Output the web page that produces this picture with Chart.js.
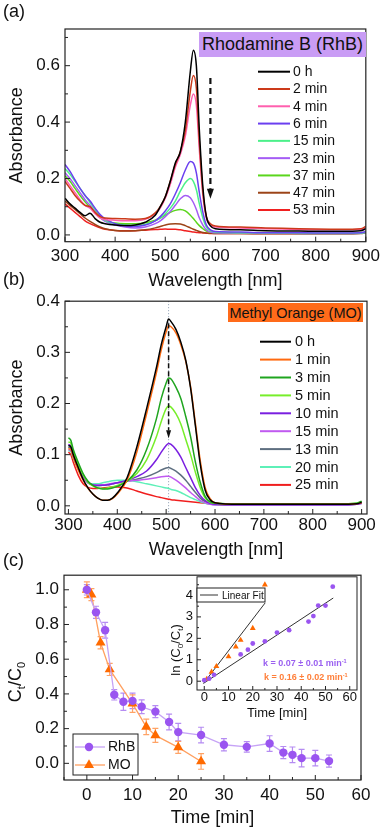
<!DOCTYPE html>
<html>
<head>
<meta charset="utf-8">
<script src="https://cdn.jsdelivr.net/npm/chart.js@4.4.1/dist/chart.umd.min.js"></script>
<style>
  html, body { margin:0; padding:0; background:#fff; }
  body { position:relative; width:384px; height:830px; overflow:hidden; font-family:'Liberation Sans', Arial, sans-serif; color:#111; }
  canvas { position:absolute; }
  .panel { position:absolute; left:3px; font-size:18px; line-height:18px; }
  .tag { position:absolute; display:flex; align-items:center; justify-content:center; white-space:nowrap; color:#111; }
</style>
</head>
<body>
<canvas id="chartA" width="384" height="295" style="left:0;top:0;width:384px;height:295px"></canvas>
<canvas id="chartB" width="384" height="280" style="left:0;top:286px;width:384px;height:280px"></canvas>
<canvas id="chartC" width="384" height="270" style="left:0;top:560px;width:384px;height:270px"></canvas>
<canvas id="chartInset" width="210" height="160" style="left:160px;top:565px;width:210px;height:160px"></canvas>
<div class="panel" style="top:2px">(a)</div>
<div class="panel" style="top:270px">(b)</div>
<div class="panel" style="top:551px">(c)</div>
<div class="tag" style="left:199px;top:32px;width:167px;height:25px;background:#c99cf5;font-size:18px">Rhodamine B (RhB)</div>
<div class="tag" style="left:228px;top:303px;width:135px;height:19px;background:#ff6b1a;font-size:14.5px">Methyl Orange (MO)</div>
<script>
const FONT = "'Liberation Sans', Arial, sans-serif";
Chart.defaults.font.family = FONT;
Chart.defaults.color = '#111';

// ---------------- DATA ----------------
// (a) Rhodamine B spectra
const wavelengthRhB = [300,310,320,330,340,350,360,370,380,400,420,440,460,480,490,500,510,520,530,540,550,556,562,568,575,582,590,600,650,700,750,800,850,890,900];
const rhbSpectrumLabels = ['0 h','2 min','4 min','6 min','15 min','23 min','37 min','47 min','53 min'];
const rhb0h   = [0.13,0.11,0.095,0.08,0.068,0.077,0.058,0.045,0.04, 0.035,0.033,0.035,0.045,0.07, 0.1,0.135,0.19,0.255,0.295,0.40,0.58, 0.655,0.60,0.37,0.17,0.065,0.032,0.022, 0.018,0.015,0.014,0.013,0.013,0.015,0.022];
const rhb2min = [0.19,0.165,0.14,0.12,0.105,0.1,0.08,0.065,0.06, 0.058,0.057,0.056,0.058,0.078, 0.1,0.135,0.19,0.25,0.295,0.37,0.51, 0.565,0.52,0.33,0.155,0.065,0.04,0.032, 0.028,0.025,0.023,0.021,0.02,0.022,0.03];
const rhb4min = [0.2,0.175,0.15,0.125,0.105,0.095,0.075,0.06,0.055, 0.052,0.05,0.05,0.055,0.075, 0.095,0.13,0.18,0.24,0.285,0.35,0.46, 0.5,0.46,0.3,0.14,0.06,0.035,0.028, 0.025,0.022,0.02,0.018,0.018,0.02,0.026];
const rhb6min = [0.25,0.225,0.195,0.165,0.14,0.12,0.095,0.072,0.057, 0.04,0.032,0.03,0.035,0.05, 0.065,0.085,0.11,0.145,0.185,0.23,0.26, 0.255,0.22,0.15,0.08,0.035,0.018,0.012, 0.01,0.008,0.008,0.007,0.007,0.008,0.012];
const rhb15min = [0.235,0.215,0.19,0.165,0.14,0.115,0.09,0.068,0.052, 0.04,0.035,0.033,0.037,0.05, 0.06,0.075,0.095,0.12,0.155,0.185,0.2, 0.19,0.16,0.11,0.06,0.028,0.015,0.01, 0.008,0.007,0.007,0.006,0.006,0.007,0.01];
const rhb23min = [0.22,0.2,0.175,0.15,0.125,0.105,0.083,0.062,0.048, 0.035,0.028,0.025,0.028,0.04, 0.05,0.065,0.083,0.105,0.128,0.14,0.132, 0.115,0.09,0.06,0.035,0.018,0.01,0.008, 0.007,0.006,0.006,0.005,0.005,0.006,0.009];
const rhb37min = [0.21,0.19,0.165,0.14,0.118,0.098,0.08,0.062,0.05, 0.042,0.04,0.04,0.043,0.052, 0.06,0.07,0.08,0.087,0.09,0.085,0.07, 0.058,0.045,0.033,0.022,0.014,0.01,0.008, 0.007,0.006,0.006,0.005,0.005,0.006,0.009];
const rhb47min = [0.12,0.105,0.09,0.075,0.06,0.048,0.037,0.028,0.022, 0.016,0.014,0.015,0.018,0.025, 0.03,0.035,0.039,0.04,0.039,0.033,0.025, 0.02,0.016,0.012,0.009,0.007,0.006,0.005, 0.005,0.004,0.004,0.004,0.004,0.005,0.008];
const rhb53min = [0.11,0.095,0.08,0.065,0.05,0.04,0.032,0.025,0.02, 0.016,0.015,0.015,0.017,0.019, 0.02,0.021,0.02,0.02,0.018,0.015,0.012, 0.01,0.009,0.008,0.007,0.006,0.005,0.005, 0.005,0.005,0.005,0.005,0.005,0.006,0.01];

// (b) Methyl Orange spectra
const wavelengthMO = [300,305,310,320,330,340,350,360,370,380,390,400,420,440,460,480,490,500,505,510,520,530,540,550,560,570,580,590,600,650,700,750,800,850,890,900];
const moSpectrumLabels = ['0 h','1 min','3 min','5 min','10 min','15 min','13 min','20 min','25 min'];
const mo0h   = [0.118,0.115,0.1,0.075,0.052,0.035,0.023,0.015,0.011,0.011, 0.015,0.025,0.055,0.115,0.19,0.27,0.315,0.35, 0.365,0.36,0.345,0.32,0.285,0.23,0.155,0.08, 0.03,0.012,0.006,0.003,0.003,0.003,0.003,0.003,0.004,0.007];
const mo1min = [0.112,0.11,0.095,0.07,0.05,0.034,0.023,0.015,0.011,0.011, 0.014,0.023,0.05,0.105,0.18,0.26,0.305,0.34, 0.352,0.35,0.338,0.315,0.283,0.233,0.16,0.087, 0.035,0.014,0.006,0.003,0.003,0.003,0.003,0.003,0.004,0.006];
const mo3min = [0.133,0.128,0.11,0.085,0.063,0.048,0.04,0.035,0.033,0.033, 0.035,0.038,0.048,0.07,0.11,0.17,0.21,0.24, 0.25,0.248,0.232,0.21,0.175,0.135,0.085,0.045, 0.018,0.008,0.005,0.004,0.004,0.004,0.004,0.004,0.005,0.009];
const mo5min = [0.125,0.122,0.105,0.08,0.06,0.046,0.039,0.035,0.034,0.035, 0.037,0.04,0.048,0.063,0.09,0.135,0.165,0.19, 0.195,0.193,0.18,0.16,0.13,0.1,0.065,0.035, 0.015,0.007,0.005,0.004,0.004,0.004,0.004,0.004,0.005,0.008];
const mo10min = [0.12,0.117,0.1,0.077,0.058,0.046,0.041,0.04,0.04,0.041, 0.043,0.045,0.05,0.057,0.068,0.09,0.105,0.118, 0.122,0.12,0.11,0.095,0.075,0.055,0.035,0.02, 0.01,0.005,0.003,0.002,0.002,0.002,0.002,0.002,0.003,0.005];
const mo15min = [0.11,0.108,0.094,0.073,0.056,0.045,0.041,0.04,0.041,0.042, 0.044,0.045,0.048,0.05,0.052,0.055,0.057,0.058, 0.058,0.056,0.05,0.043,0.035,0.026,0.018,0.01, 0.006,0.003,0.002,0.002,0.002,0.002,0.002,0.002,0.003,0.005];
const mo13min = [0.115,0.112,0.097,0.075,0.057,0.045,0.04,0.039,0.04,0.041, 0.043,0.045,0.048,0.052,0.057,0.065,0.07,0.074, 0.075,0.073,0.068,0.06,0.05,0.038,0.026,0.015, 0.008,0.004,0.002,0.002,0.002,0.002,0.002,0.002,0.003,0.005];
const mo20min = [0.108,0.106,0.093,0.072,0.055,0.045,0.043,0.043,0.045,0.047, 0.049,0.05,0.05,0.047,0.043,0.039,0.037,0.035, 0.034,0.032,0.03,0.026,0.021,0.016,0.012,0.008, 0.005,0.003,0.003,0.003,0.003,0.003,0.003,0.003,0.004,0.007];
const mo25min = [0.105,0.1,0.085,0.06,0.043,0.036,0.034,0.034,0.035,0.036, 0.037,0.037,0.035,0.029,0.023,0.018,0.016,0.014, 0.013,0.012,0.011,0.01,0.009,0.008,0.007,0.006, 0.005,0.004,0.003,0.003,0.003,0.003,0.003,0.003,0.004,0.006];

// (c) kinetics
const timeRhB = [0,2,4,6,8,10,12,15,18,20,25,30,35,40,43,45,47,50,53];
const ctRhB   = [1.0,0.87,0.767,0.395,0.355,0.36,0.326,0.298,0.238,0.18,0.163,0.107,0.095,0.114,0.062,0.049,0.03,0.03,0.013];
const errRhB  = [0.03,0.035,0.045,0.03,0.05,0.045,0.04,0.035,0.045,0.05,0.045,0.035,0.03,0.045,0.035,0.045,0.05,0.045,0.035];
const timeMO  = [0,1,3,5,10,13,15,20,25];
const ctMO    = [1.0,0.972,0.695,0.541,0.344,0.21,0.161,0.092,0.011];
const errMO   = [0.045,0.035,0.035,0.035,0.05,0.045,0.04,0.035,0.045];

// (c) inset: ln(C0/Ct)
const lnTimeRhB = [0,2,4,15,18,20,25,30,35,43,45,47,50,53];
const lnRhB     = [0.05,0.12,0.3,1.25,1.47,1.76,1.86,2.27,2.38,2.78,3.04,3.53,3.53,4.41];
const lnTimeMO  = [1,3,5,10,13,15,20,25];
const lnMO      = [0.1,0.43,0.69,1.15,1.61,1.92,2.47,4.5];
const fitTimeRhB = [-0.3,53.2];
const fitLnRhB   = [-0.1,3.88];
const fitTimeMO  = [-0.3,25.1];
const fitLnMO    = [-0.1,3.65];

// ---------------- STYLE ----------------
const rhbColors = ['#000000','#cc3a1a','#ff5fae','#6b3ff0','#4cf08a','#a45cf5','#5ad61c','#9c4418','#f02020'];
const moColors  = ['#000000','#ff6a10','#1fa51f','#77ee2a','#7a1fe0','#c05af0','#5e6f80','#5ef0b8','#f01e1e'];

const pts = (xs, ys) => xs.map((x, i) => ({x: x, y: ys[i]}));

function spectraDatasets(wl, series, labels, colors) {
  return series.map((s, i) => ({
    label: labels[i], data: pts(wl, s), borderColor: colors[i], backgroundColor: colors[i],
    borderWidth: 1.5, pointRadius: 0, cubicInterpolationMode: 'monotone', fill: false
  }));
}
function fixed(size) { return s => { if (s.isHorizontal()) s.height = size; else s.width = size; }; }
function linAxis(o) {
  return {
    type: 'linear', min: o.min, max: o.max, afterFit: fixed(o.size),
    grid: {display: false, drawTicks: false}, border: {display: false},
    ticks: {stepSize: o.step, includeBounds: false, padding: o.pad, font: {size: o.font}, color: '#111',
            maxRotation: 0, autoSkip: false, callback: o.fmt || (v => v)},
    title: o.title ? {display: true, text: o.title, font: {size: o.titleSize}, color: '#111', padding: o.titlePad} : {display: false}
  };
}

function drawParts(ctx, parts, x, y, size, weight, color) {
  ctx.fillStyle = color; ctx.textBaseline = 'alphabetic'; ctx.textAlign = 'left';
  let cx = x;
  for (const p of parts) {
    const s = (p.sup || p.sub) ? size * 0.62 : size;
    ctx.font = weight + ' ' + s + 'px ' + FONT;
    const dy = p.sup ? -size * 0.4 : (p.sub ? size * 0.22 : 0);
    ctx.fillText(p.t, cx, y + size * 0.36 + dy);
    cx += ctx.measureText(p.t).width;
  }
}
function partsWidth(ctx, parts, size, weight) {
  let w = 0;
  for (const p of parts) {
    const s = (p.sup || p.sub) ? size * 0.62 : size;
    ctx.font = weight + ' ' + s + 'px ' + FONT;
    w += ctx.measureText(p.t).width;
  }
  return w;
}
function drawMarker(ctx, style, x, y, r, color) {
  ctx.fillStyle = color; ctx.beginPath();
  if (style === 'triangle') {
    let a = 0;
    ctx.moveTo(x + Math.sin(a) * r, y - Math.cos(a) * r);
    a += 2 * Math.PI / 3; ctx.lineTo(x + Math.sin(a) * r, y - Math.cos(a) * r);
    a += 2 * Math.PI / 3; ctx.lineTo(x + Math.sin(a) * r, y - Math.cos(a) * r);
    ctx.closePath();
  } else {
    ctx.arc(x, y, r, 0, Math.PI * 2);
  }
  ctx.fill();
}

// ---------------- PLUGINS ----------------
const framePlugin = {
  id: 'frame',
  beforeDatasetsDraw(chart, args, o) {
    if (!o.on) return;
    const {ctx, chartArea: a} = chart;
    if (o.fill) { ctx.save(); ctx.fillStyle = '#fff'; ctx.fillRect(a.left, a.top, a.right - a.left, a.bottom - a.top); ctx.restore(); }
  },
  afterDatasetsDraw(chart, args, o) {
    if (!o.on) return;
    const {ctx, chartArea: a, scales} = chart;
    ctx.save();
    ctx.strokeStyle = '#222'; ctx.lineWidth = o.lw || 1.2;
    ctx.strokeRect(a.left, a.top, a.right - a.left, a.bottom - a.top);
    ctx.lineWidth = 1; ctx.beginPath();
    const doTicks = (scale, step, minor, horiz) => {
      const k0 = Math.ceil(scale.min / minor - 1e-9), k1 = Math.floor(scale.max / minor + 1e-9);
      for (let k = k0; k <= k1; k++) {
        const v = k * minor;
        const isMajor = Math.abs(v / step - Math.round(v / step)) < 1e-6;
        const len = isMajor ? o.major : o.minor;
        const p = scale.getPixelForValue(v);
        if (horiz) { ctx.moveTo(p, a.bottom); ctx.lineTo(p, a.bottom - len); }
        else { ctx.moveTo(a.left, p); ctx.lineTo(a.left + len, p); }
      }
    };
    doTicks(scales.x, o.xStep, o.xMinor, true);
    doTicks(scales.y, o.yStep, o.yMinor, false);
    ctx.stroke();
    ctx.restore();
  }
};

const marksPlugin = {
  id: 'marks',
  beforeDatasetsDraw(chart, args, o) { drawMarks(chart, (o.items || []).filter(i => i.under)); },
  afterDatasetsDraw(chart, args, o) { drawMarks(chart, (o.items || []).filter(i => !i.under)); }
};
function drawMarks(chart, items) {
  const {ctx, scales: {x, y}, chartArea: a} = chart;
  ctx.save();
  for (const it of items) {
    ctx.strokeStyle = it.color; ctx.fillStyle = it.color; ctx.lineWidth = it.width;
    ctx.setLineDash(it.dash || []);
    const px = x.getPixelForValue(it.x);
    if (it.type === 'vline') {
      ctx.beginPath(); ctx.moveTo(px, a.top); ctx.lineTo(px, a.bottom); ctx.stroke();
    } else if (it.type === 'arrow') {
      const p1 = y.getPixelForValue(it.from), p2 = y.getPixelForValue(it.to);
      ctx.beginPath(); ctx.moveTo(px, p1); ctx.lineTo(px, p2 - it.head); ctx.stroke();
      ctx.setLineDash([]);
      ctx.beginPath(); ctx.moveTo(px - it.headW / 2, p2 - it.head); ctx.lineTo(px + it.headW / 2, p2 - it.head); ctx.lineTo(px, p2); ctx.closePath(); ctx.fill();
    }
  }
  ctx.restore();
}

const errorBarsPlugin = {
  id: 'errorBars',
  beforeDatasetsDraw(chart, args, o) {
    const {ctx, scales: {x, y}} = chart;
    chart.data.datasets.forEach(ds => {
      if (!ds.errors) return;
      ctx.save(); ctx.strokeStyle = ds.errorColor; ctx.lineWidth = 1.2;
      ctx.beginPath();
      ds.data.forEach((p, j) => {
        const e = ds.errors[j], px = x.getPixelForValue(p.x);
        const t = y.getPixelForValue(p.y + e), b = y.getPixelForValue(p.y - e);
        const c = o.cap || 3;
        ctx.moveTo(px, t); ctx.lineTo(px, b);
        ctx.moveTo(px - c, t); ctx.lineTo(px + c, t);
        ctx.moveTo(px - c, b); ctx.lineTo(px + c, b);
      });
      ctx.stroke(); ctx.restore();
    });
  }
};

const seriesLegend = {
  id: 'seriesLegend',
  afterDraw(chart, args, o) {
    if (!o.on) return;
    const ctx = chart.ctx;
    ctx.save();
    if (o.box) {
      ctx.fillStyle = '#fff'; ctx.fillRect(o.box[0], o.box[1], o.box[2], o.box[3]);
      ctx.strokeStyle = '#222'; ctx.lineWidth = 1; ctx.strokeRect(o.box[0], o.box[1], o.box[2], o.box[3]);
    }
    chart.data.datasets.forEach((ds, i) => {
      if (ds.noLegend) return;
      const yy = o.y0 + i * o.step;
      ctx.strokeStyle = ds.borderColor; ctx.lineWidth = o.lineWidth;
      ctx.beginPath(); ctx.moveTo(o.x1, yy); ctx.lineTo(o.x2, yy); ctx.stroke();
      if (o.markers) drawMarker(ctx, ds.pointStyle, o.markerX, yy, ds.pointRadius, ds.pointBackgroundColor);
      ctx.fillStyle = '#111'; ctx.font = o.size + 'px ' + FONT; ctx.textBaseline = 'middle'; ctx.textAlign = 'left';
      ctx.fillText(ds.label, o.textX, yy + 0.5);
    });
    ctx.restore();
  }
};

const notesPlugin = {
  id: 'notes',
  afterDraw(chart, args, o) {
    const ctx = chart.ctx;
    for (const it of (o.items || [])) {
      ctx.save();
      if (it.type === 'box') {
        ctx.fillStyle = '#fff'; ctx.fillRect(it.x, it.y, it.w, it.h);
        ctx.strokeStyle = '#222'; ctx.lineWidth = 1; ctx.strokeRect(it.x, it.y, it.w, it.h);
      } else if (it.type === 'line') {
        ctx.strokeStyle = it.color; ctx.lineWidth = it.width;
        ctx.beginPath(); ctx.moveTo(it.x1, it.y); ctx.lineTo(it.x2, it.y); ctx.stroke();
      } else if (it.type === 'text') {
        drawParts(ctx, it.parts, it.x, it.y, it.size, it.weight || 'normal', it.color);
      } else if (it.type === 'vtext') {
        ctx.translate(it.x, it.y); ctx.rotate(-Math.PI / 2);
        const w = partsWidth(ctx, it.parts, it.size, 'normal');
        drawParts(ctx, it.parts, -w / 2, 0, it.size, 'normal', it.color);
      }
      ctx.restore();
    }
  }
};

Chart.register(framePlugin, marksPlugin, errorBarsPlugin, seriesLegend, notesPlugin);

const baseOpts = {responsive: false, animation: false, events: []};

// ---------------- PANEL (a) ----------------
new Chart(document.getElementById('chartA'), {
  type: 'line',
  data: {datasets: spectraDatasets(wavelengthRhB,
    [rhb0h, rhb2min, rhb4min, rhb6min, rhb15min, rhb23min, rhb37min, rhb47min, rhb53min],
    rhbSpectrumLabels, rhbColors)},
  options: Object.assign({}, baseOpts, {
    layout: {padding: {left: 0, top: 29, right: 17, bottom: 0}},
    plugins: {
      legend: {display: false}, tooltip: {enabled: false},
      frame: {on: true, xStep: 100, xMinor: 50, yStep: 0.2, yMinor: 0.1, major: 5, minor: 3},
      marks: {items: [{type: 'arrow', x: 590, from: 0.556, to: 0.128, color: '#111', width: 2.2, dash: [6, 4], head: 10, headW: 7}]},
      seriesLegend: {on: true, x1: 258, x2: 290, textX: 293, y0: 71.7, step: 17.29, size: 14, lineWidth: 2}
    },
    scales: {
      x: linAxis({min: 300, max: 900, size: 53.3, step: 100, pad: 4, font: 17, title: 'Wavelength [nm]', titleSize: 18, titlePad: {top: 0, bottom: 3}}),
      y: linAxis({min: -0.024, max: 0.73, size: 65, step: 0.2, pad: 5, font: 17, fmt: v => v.toFixed(1), title: 'Absorbance', titleSize: 18, titlePad: {top: 6, bottom: 0}})
    }
  })
});

// ---------------- PANEL (b) ----------------
new Chart(document.getElementById('chartB'), {
  type: 'line',
  data: {datasets: spectraDatasets(wavelengthMO,
    [mo0h, mo1min, mo3min, mo5min, mo10min, mo15min, mo13min, mo20min, mo25min],
    moSpectrumLabels, moColors)},
  options: Object.assign({}, baseOpts, {
    layout: {padding: {left: 0, top: 15, right: 17, bottom: 0}},
    plugins: {
      legend: {display: false}, tooltip: {enabled: false},
      frame: {on: true, xStep: 100, xMinor: 50, yStep: 0.1, yMinor: 0.05, major: 5, minor: 3},
      marks: {items: [
        {type: 'vline', under: true, x: 505, color: '#8a9bb0', width: 1, dash: [1, 2]},
        {type: 'arrow', x: 505, from: 0.357, to: 0.132, color: '#111', width: 1.5, dash: [5, 3], head: 8, headW: 5}
      ]},
      seriesLegend: {on: true, x1: 260, x2: 291, textX: 295, y0: 55.7, step: 17.9, size: 14.5, lineWidth: 2}
    },
    scales: {
      x: linAxis({min: 293, max: 911, size: 52, step: 100, pad: 1, font: 17, title: 'Wavelength [nm]', titleSize: 18, titlePad: {top: 0, bottom: 5}}),
      y: linAxis({min: -0.016, max: 0.4, size: 65, step: 0.1, pad: 5, font: 17, fmt: v => v.toFixed(1), title: 'Absorbance', titleSize: 18, titlePad: {top: 6, bottom: 0}})
    }
  })
});

// ---------------- PANEL (c) ----------------
new Chart(document.getElementById('chartC'), {
  type: 'line',
  data: {datasets: [
    {label: 'RhB', data: pts(timeRhB, ctRhB), errors: errRhB, errorColor: '#b58cf2',
     borderColor: '#c6a3f6', borderWidth: 1.3, pointStyle: 'circle', pointRadius: 4.2,
     pointBackgroundColor: '#9a55f0', pointBorderColor: '#9a55f0', pointBorderWidth: 0, tension: 0},
    {label: 'MO', data: pts(timeMO, ctMO), errors: errMO, errorColor: '#ffa366',
     borderColor: '#ffa060', borderWidth: 1.3, pointStyle: 'triangle', pointRadius: 5.8,
     pointBackgroundColor: '#ff6a00', pointBorderColor: '#ff6a00', pointBorderWidth: 0, tension: 0}
  ]},
  options: Object.assign({}, baseOpts, {
    layout: {padding: {left: 0, top: 10, right: 23, bottom: 0}},
    plugins: {
      legend: {display: false}, tooltip: {enabled: false},
      frame: {on: true, xStep: 10, xMinor: 5, yStep: 0.2, yMinor: 0.1, major: 5, minor: 3},
      errorBars: {cap: 3},
      seriesLegend: {on: true, x1: 75, x2: 105, textX: 108, y0: 187, step: 18, size: 14, lineWidth: 1.3, markers: true, markerX: 89, box: [73, 174, 65, 41]},
      notes: {items: [
        {type: 'vtext', x: 15, y: 122, size: 18, color: '#111', parts: [{t: 'C'}, {t: 't', sub: true}, {t: '/C'}, {t: '0', sub: true}]}
      ]}
    },
    scales: {
      x: linAxis({min: -5, max: 60, size: 50, step: 10, pad: 5, font: 17, title: 'Time [min]', titleSize: 18, titlePad: {top: 0, bottom: 1}}),
      y: linAxis({min: -0.096, max: 1.084, size: 64, step: 0.2, pad: 5, font: 17, fmt: v => v.toFixed(1)})
    }
  })
});

// ---------------- INSET ----------------
new Chart(document.getElementById('chartInset'), {
  type: 'line',
  data: {datasets: [
    {label: 'RhB', data: pts(lnTimeRhB, lnRhB), showLine: false, pointStyle: 'circle', pointRadius: 2.4,
     pointBackgroundColor: '#9a55f0', pointBorderColor: '#9a55f0', pointBorderWidth: 0},
    {label: 'MO', data: pts(lnTimeMO, lnMO), showLine: false, pointStyle: 'triangle', pointRadius: 3.4,
     pointBackgroundColor: '#ff6a00', pointBorderColor: '#ff6a00', pointBorderWidth: 0},
    {label: 'Linear Fit RhB', data: pts(fitTimeRhB, fitLnRhB), borderColor: '#333', borderWidth: 1, pointRadius: 0, tension: 0},
    {label: 'Linear Fit MO', data: pts(fitTimeMO, fitLnMO), borderColor: '#333', borderWidth: 1, pointRadius: 0, tension: 0}
  ]},
  options: Object.assign({}, baseOpts, {
    layout: {padding: {left: 0, top: 10, right: 13, bottom: 0}},
    plugins: {
      legend: {display: false}, tooltip: {enabled: false},
      frame: {on: true, fill: true, lw: 1, xStep: 10, xMinor: 5, yStep: 1, yMinor: 0.5, major: 4, minor: 2},
      notes: {items: [
        {type: 'box', x: 37, y: 23, w: 68, h: 14},
        {type: 'line', x1: 40, x2: 58, y: 30, color: '#333', width: 1},
        {type: 'text', x: 62, y: 30, size: 10, color: '#111', parts: [{t: 'Linear Fit'}]},
        {type: 'text', x: 103, y: 98, size: 9, weight: 'bold', color: '#9a60f0', parts: [{t: 'k = 0.07 \u00b1 0.01 min'}, {t: '-1', sup: true}]},
        {type: 'text', x: 104, y: 112, size: 9, weight: 'bold', color: '#ff7f3a', parts: [{t: 'k = 0.16 \u00b1 0.02 min'}, {t: '-1', sup: true}]},
        {type: 'vtext', x: 15, y: 85, size: 13, color: '#111', parts: [{t: 'ln (C'}, {t: '0', sub: true}, {t: '/C'}, {t: 't', sub: true}, {t: ')'}]}
      ]}
    },
    scales: {
      x: linAxis({min: -3, max: 63, size: 35, step: 10, pad: 0, font: 13, title: 'Time [min]', titleSize: 13, titlePad: {top: 0, bottom: 4}}),
      y: linAxis({min: -0.41, max: 4.87, size: 37, step: 1, pad: 4, font: 13})
    }
  })
});
</script>
</body>
</html>
